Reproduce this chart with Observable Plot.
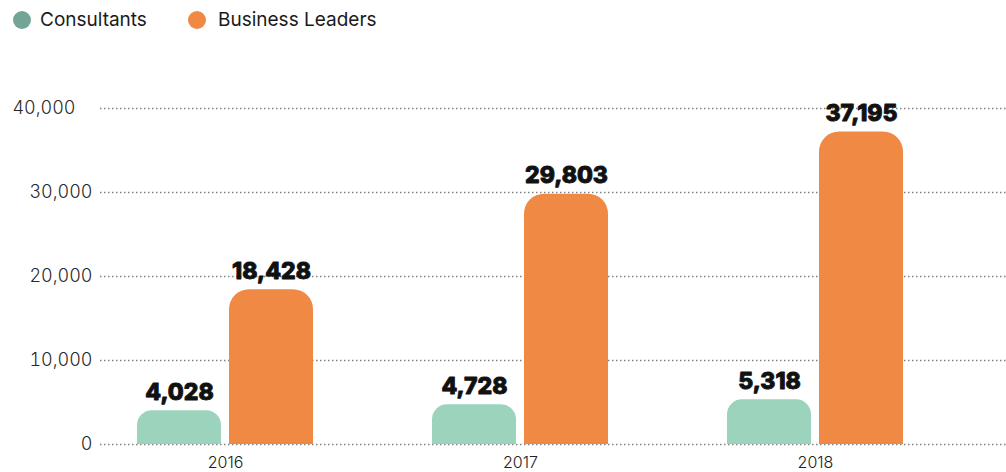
<!DOCTYPE html>
<html><head><meta charset="utf-8">
<script src="https://cdn.jsdelivr.net/npm/d3@7"></script>
<script src="https://cdn.jsdelivr.net/npm/@observablehq/plot@0.6"></script>
<style>
body{margin:0;background:#fff;font-family:Inter,"Liberation Sans",sans-serif;}
#legend{height:40px;position:relative;font-size:19px;color:#1a1a1a;}
.item{position:absolute;top:10px;display:flex;align-items:center;line-height:20px;}
.sw{width:18px;height:18px;border-radius:50%;}
</style></head><body>
<div id="legend"></div>
<div id="chart"></div>
<script>
const years = ["2016", "2017", "2018"];
const consultants = [4028, 4728, 5318];
const businessLeaders = [18428, 29803, 37195];
const seriesNames = ["Consultants", "Business Leaders"];
const legendColors = ["#72a595", "#ef8944"];
const barColors = ["#9cd3bc", "#ef8944"];
const yTicks = [0, 10000, 20000, 30000, 40000];

// legend
const legend = document.getElementById("legend");
const legendLeft = [13, 188];
const legendGap = [9, 12];
seriesNames.forEach((name, i) => {
  const it = document.createElement("div");
  it.className = "item";
  it.style.left = legendLeft[i] + "px";
  const sw = document.createElement("span");
  sw.className = "sw";
  sw.style.background = legendColors[i];
  sw.style.marginRight = legendGap[i] + "px";
  const t = document.createElement("span");
  t.textContent = name;
  it.appendChild(sw); it.appendChild(t);
  legend.appendChild(it);
});

const cons = years.map((y, i) => ({year: y, value: consultants[i]}));
const biz = years.map((y, i) => ({year: y, value: businessLeaders[i]}));
const fmt = d3.format(",");
const labelStyle = {fill: "#111", stroke: "#111", strokeWidth: 0.9, fontSize: 23, fontWeight: 800, lineAnchor: "bottom", dy: -11, letterSpacing: -0.2, fontFamily: "Inter, sans-serif"};
const axisStyle = {tickSize: 0, fontSize: 18, fontWeight: 300, fill: "#2a2a2a", tickFormat: fmt, label: null};

const plot = Plot.plot({
  width: 1006, height: 432,
  marginLeft: 100, marginRight: 0, marginTop: 68, marginBottom: 28,
  style: {fontFamily: "Inter, sans-serif", background: "#fff"},
  x: {domain: years, paddingInner: 0.4034, paddingOuter: 0.237, align: 0.264, label: null},
  y: {domain: [0, 40000], label: null},
  marks: [
    Plot.ruleY(yTicks, {stroke: "#808080", strokeDasharray: "1.5,2.5", strokeWidth: 1.3}),
    Plot.barY(cons, {x: "year", y: "value", fill: barColors[0], insetRight: 92, insetBottom: -30, rx: 15, clip: true}),
    Plot.barY(biz, {x: "year", y: "value", fill: barColors[1], insetLeft: 92, insetBottom: -30, rx: 20, clip: true}),
    Plot.text(cons, {x: "year", y: "value", text: d => fmt(d.value), dx: -46, ...labelStyle}),
    Plot.text(biz, {x: "year", y: "value", text: d => fmt(d.value), dx: 46, ...labelStyle}),
    Plot.axisX({tickSize: 0, tickPadding: 12, fontSize: 16, fontWeight: 300, fill: "#222", label: null}),
    Plot.axisY(yTicks.slice(0, 4), {...axisStyle, tickPadding: 8}),
    Plot.axisY(yTicks.slice(4), {...axisStyle, tickPadding: 25})
  ]
});
document.getElementById("chart").appendChild(plot);
</script>
</body></html>
